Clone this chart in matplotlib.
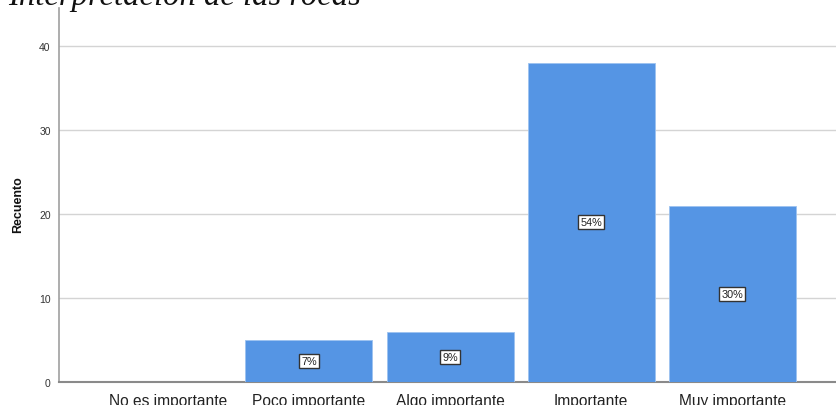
import matplotlib
matplotlib.use("Agg")
import matplotlib.pyplot as plt

categories = ["No es importante", "Poco importante", "Algo importante", "Importante", "Muy importante"]
counts = [0, 5, 6, 38, 21]
pct_labels = ["", "7%", "9%", "54%", "30%"]
yticks = [0, 10, 20, 30, 40]

plt.rcParams['font.family'] = ['Liberation Sans', 'DejaVu Sans']

fig = plt.figure(figsize=(8.37, 4.06), dpi=100)
ax = fig.add_axes([59/837, 1 - 383/406, 1 - 59/837 + 0.01, (383 - 9)/406])

x = list(range(len(categories)))
ax.bar(x, counts, width=0.9, color='#5595E4', edgecolor='#9cc2f0', linewidth=0.6, zorder=3)

for xi, c, lab in zip(x, counts, pct_labels):
    if lab:
        ax.text(xi, c / 2, lab, ha='center', va='center', fontsize=7.8, color='#222222', zorder=5,
                bbox=dict(boxstyle='square,pad=0.2', facecolor='white', edgecolor='#333333', linewidth=1.0))

ax.set_xlim(-0.77, 4.8)
ax.set_ylim(0, 44.5)
ax.set_yticks(yticks)
ax.set_yticklabels([str(t) for t in yticks], fontsize=7.5, color='#333333')
ax.set_xticks(x)
ax.set_xticklabels(categories, fontsize=11.2, color='#222222')
ax.tick_params(axis='y', length=0, pad=6)
ax.tick_params(axis='x', length=0, pad=8)
ax.yaxis.grid(True, color='#d4d4d4', linewidth=1, zorder=0)
ax.set_axisbelow(True)

for s in ['top', 'right']:
    ax.spines[s].set_visible(False)
ax.spines['left'].set_color('#a0a0a0')
ax.spines['left'].set_linewidth(1.2)
ax.spines['bottom'].set_color('#8a8a8a')
ax.spines['bottom'].set_linewidth(1.5)

fig.text(18/837, 1 - 205/406, "Recuento", rotation=90, ha='center', va='center',
         fontsize=9, fontweight='bold', color='#111111')

fig.text(8/837, 1 - 5/406, "Interpretación de las rocas", ha='left', va='baseline',
         fontsize=23.5, style='italic', family=['Liberation Serif', 'DejaVu Serif'], color='#111111')

fig.savefig("out.png", dpi=100)
